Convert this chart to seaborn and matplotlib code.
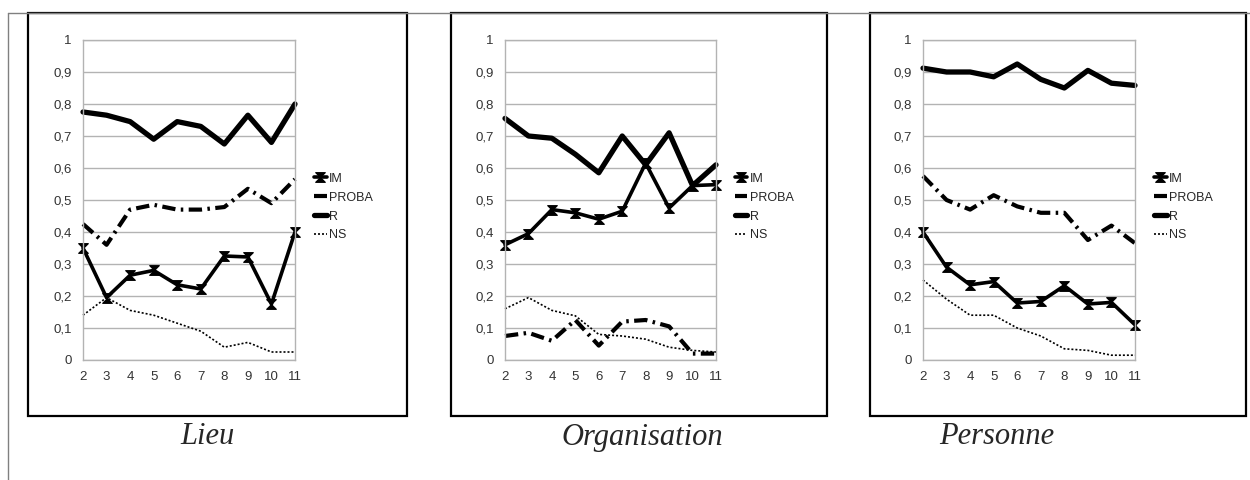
import numpy as np
import matplotlib
matplotlib.use('Agg')
import matplotlib.pyplot as plt
import seaborn as sns
from matplotlib.patches import Rectangle
from matplotlib.lines import Line2D
from matplotlib.path import Path

# data
steps = [2, 3, 4, 5, 6, 7, 8, 9, 10, 11]
y_ticks = [0, 0.1, 0.2, 0.3, 0.4, 0.5, 0.6, 0.7, 0.8, 0.9, 1]
y_labels = ['0', '0,1', '0,2', '0,3', '0,4', '0,5', '0,6', '0,7', '0,8', '0,9', '1']
series_names = ['IM', 'PROBA', 'R', 'NS']
panel_titles = ['Lieu', 'Organisation', 'Personne']

lieu_im = [0.35, 0.195, 0.265, 0.28, 0.235, 0.222, 0.325, 0.322, 0.175, 0.40]
lieu_proba = [0.425, 0.36, 0.47, 0.485, 0.47, 0.47, 0.478, 0.535, 0.49, 0.565]
lieu_r = [0.775, 0.765, 0.745, 0.69, 0.745, 0.73, 0.675, 0.765, 0.68, 0.80]
lieu_ns = [0.14, 0.195, 0.155, 0.14, 0.115, 0.09, 0.04, 0.055, 0.025, 0.025]

orga_im = [0.36, 0.395, 0.47, 0.46, 0.44, 0.465, 0.615, 0.475, 0.545, 0.548]
orga_proba = [0.075, 0.085, 0.06, 0.125, 0.045, 0.12, 0.125, 0.105, 0.02, 0.02]
orga_r = [0.755, 0.70, 0.693, 0.643, 0.585, 0.70, 0.61, 0.71, 0.545, 0.61]
orga_ns = [0.16, 0.195, 0.155, 0.138, 0.08, 0.075, 0.065, 0.04, 0.03, 0.025]

pers_im = [0.40, 0.29, 0.235, 0.245, 0.178, 0.183, 0.232, 0.175, 0.18, 0.11]
pers_proba = [0.575, 0.50, 0.47, 0.515, 0.48, 0.46, 0.46, 0.375, 0.42, 0.365]
pers_r = [0.912, 0.90, 0.90, 0.885, 0.925, 0.877, 0.85, 0.905, 0.865, 0.858]
pers_ns = [0.25, 0.19, 0.14, 0.14, 0.10, 0.075, 0.035, 0.03, 0.015, 0.015]

panel_data = [
    [lieu_im, lieu_proba, lieu_r, lieu_ns],
    [orga_im, orga_proba, orga_r, orga_ns],
    [pers_im, pers_proba, pers_r, pers_ns],
]

sns.set_style('white')
plt.rcParams['font.family'] = ['Liberation Sans', 'DejaVu Sans']

W, H = 1250, 480
fig = plt.figure(figsize=(12.5, 4.8), dpi=100)


def fx(px):
    return px / W


def fy(py):
    return 1 - py / H


# hourglass marker for IM
hourglass = Path([(-1, 1), (1, 1), (-1, -1), (1, -1), (-1, 1)],
                 [Path.MOVETO, Path.LINETO, Path.LINETO, Path.LINETO, Path.CLOSEPOLY])

styles = {
    'IM': dict(lw=2.6, linestyle='-', marker=hourglass, markersize=7,
               markeredgewidth=0.8, markerfacecolor='black', markeredgecolor='black'),
    'PROBA': dict(lw=3.0, linestyle=(0, (3.2, 1.3, 0.6, 1.3))),
    'R': dict(lw=3.8, linestyle='-'),
    'NS': dict(lw=1.2, linestyle=(0, (1.2, 1.2))),
}

# axes left/right in px, box left/right in px, title centre in px
axes_px = [(83, 295), (505, 716), (923, 1135)]
box_px = [(28, 407), (451, 827), (870, 1246)]
title_cx = [207, 642, 997]

grid_c = '#b3b3b3'

for i in range(3):
    left, right = axes_px[i]
    ax = fig.add_axes([fx(left), fy(360), fx(right - left), 320 / H])
    for name, vals in zip(series_names, panel_data[i]):
        sns.lineplot(x=steps, y=vals, ax=ax, color='black', label=name,
                     clip_on=False, **styles[name])
    ax.set_xlim(2, 11)
    ax.set_ylim(0, 1)
    ax.set_xticks(steps)
    ax.set_yticks(y_ticks)
    ax.set_yticklabels(y_labels)
    ax.grid(axis='y', color=grid_c, lw=1)
    ax.grid(axis='x', visible=False)
    for sp in ax.spines.values():
        sp.set_color(grid_c)
        sp.set_linewidth(1)
    ax.tick_params(axis='both', length=6, width=1, color=grid_c, labelsize=9.5,
                   labelcolor='#333333', pad=2, direction='out')
    ax.set_xlabel('')
    ax.set_ylabel('')
    ax.legend(loc='upper left', bbox_to_anchor=(1.09, 0.585), frameon=False,
              fontsize=9, handlelength=1.0, handletextpad=0.2, labelspacing=0.55,
              borderpad=0, borderaxespad=0)

    bl, br = box_px[i]
    fig.add_artist(Rectangle((fx(bl), fy(416)), fx(br - bl), (416 - 13) / H,
                             transform=fig.transFigure, fill=False,
                             ec='black', lw=1.6))
    fig.text(fx(title_cx[i]), fy(437), panel_titles[i], ha='center', va='center',
             fontsize=22, style='italic', family='Liberation Serif')

# outer grey frame
fig.add_artist(Line2D([fx(8), 1], [fy(13), fy(13)], color='#808080', lw=1,
                      transform=fig.transFigure))
fig.add_artist(Line2D([fx(8), fx(8)], [fy(13), 0], color='#808080', lw=1,
                      transform=fig.transFigure))

fig.savefig('out.png', dpi=100, facecolor='white')
